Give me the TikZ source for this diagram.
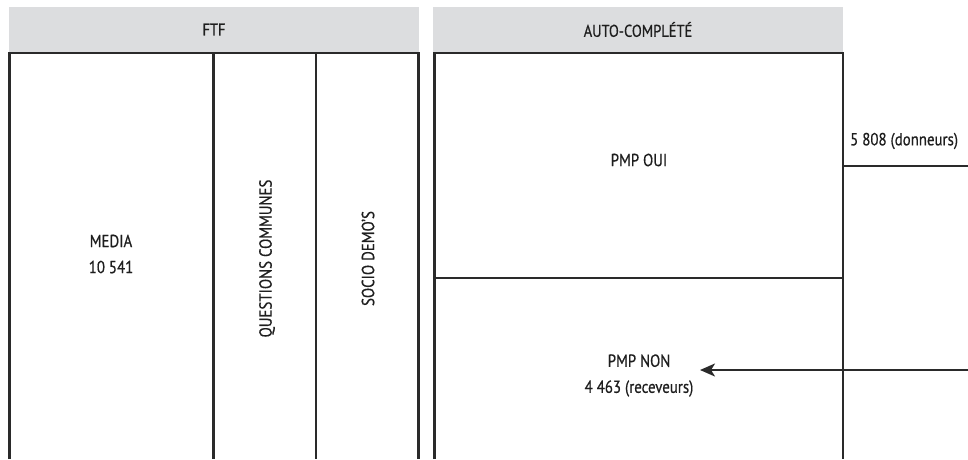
\documentclass[tikz,border=0pt]{standalone}
\usepackage{fontspec}
\setmainfont[FakeStretch=0.85,FakeBold=0.6]{PT Sans}
\usetikzlibrary{arrows.meta}
\definecolor{hdrgray}{HTML}{DCDDDF}
\definecolor{ink}{HTML}{2A2A2A}
\definecolor{txt}{HTML}{1E1E1E}
\tikzset{
  hdr/.style={fill=hdrgray, draw=none, minimum width=410pt, minimum height=45pt, inner sep=0pt, text=txt, font=\fontsize{17}{18}\selectfont},
  lbl/.style={text=txt, inner sep=0pt, align=center, font=\fontsize{17.5}{26}\selectfont},
  frame/.style={draw=ink, line width=2.2pt},
}
\begin{document}
\begin{tikzpicture}[x=1pt,y=-1pt]
\useasboundingbox (0,0) rectangle (968,459);
% headers
\node[hdr] (ftf) at (214,29.5) {FTF};
\node[hdr] (auto) at (638,29.5) {AUTO-COMPLÉTÉ};
% coordinates of frames
\coordinate (a0) at (9.5,53);
\coordinate (a1) at (213.5,53);
\coordinate (a2) at (316,53);
\coordinate (a3) at (418.5,53);
\coordinate (b0) at (434.5,53);
\coordinate (b1) at (843,53);
\coordinate (a0b) at (9.5,459);
\coordinate (a1b) at (213.5,459);
\coordinate (a2b) at (316,459);
\coordinate (a3b) at (418.5,459);
\coordinate (b0b) at (434.5,459);
\coordinate (b1b) at (843,459);
\coordinate (d0) at (434.5,278);
\coordinate (d1) at (843,278);
% left frame
\draw[frame] (a0b) -- (a0) -- (a3) -- (a3b);
\draw[frame] (a1) -- (a1b);
\draw[frame] (a2) -- (a2b);
% right frame
\draw[frame] (b0b) -- (b0) -- (b1) -- (b1b);
\draw[frame] (d0) -- (d1);
% labels
\node[lbl] (media) at (111,254) {MEDIA\\10 541};
\node[lbl, rotate=90] (qc) at (267,258.5) {QUESTIONS COMMUNES};
\node[lbl, rotate=90] (sd) at (368,258.5) {SOCIO DEMO’S};
\node[lbl] (oui) at (639,160) {PMP OUI};
\node[lbl] (non) at (639,375.5) {PMP NON\\4 463 (receveurs)};
\node[lbl, anchor=west] (don) at (850,141) {5 808 (donneurs)};
% connectors
\coordinate (e1) at (968,166);
\coordinate (e2) at (968,370);
\draw[frame] (d1 |- e1) -- (e1);
\draw[frame, -{Stealth[length=15pt,width=13pt,inset=4pt]}] (e2) -- (700,370) coordinate (tip);
\end{tikzpicture}
\end{document}
